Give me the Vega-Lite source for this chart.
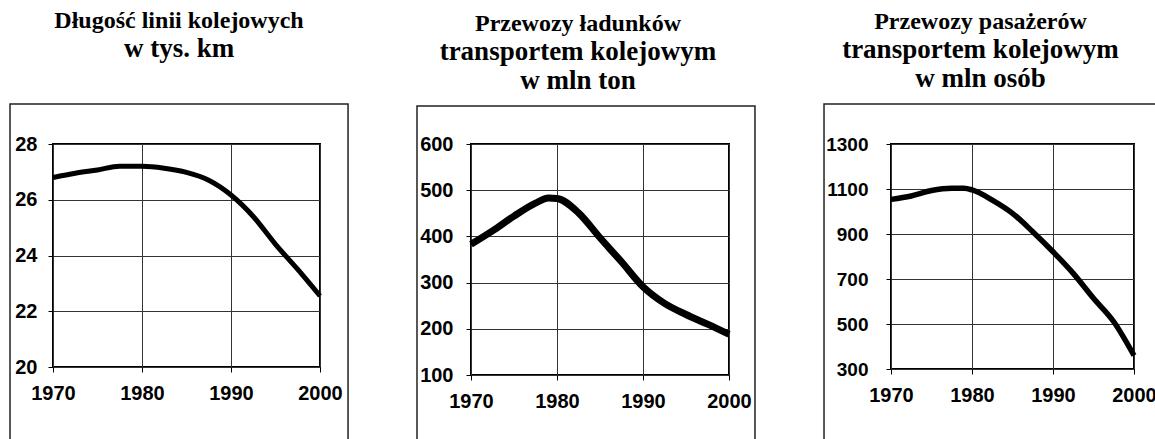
{
  "$schema": "https://vega.github.io/schema/vega-lite/v6.json",
  "padding": {"left": 8, "top": 8, "right": 0, "bottom": 0},
  "background": "white",
  "spacing": 65,
  "datasets": {
    "frame1": [{"year": 1965.17, "year2": 2003.15, "value": 29.435, "value2": 17}],
    "frame2": [{"year": 1963.72, "year2": 2003.02, "value": 682.3, "value2": -65}],
    "frame3": [{"year": 1961.73, "year2": 2003.33, "value": 1477.8, "value2": -60}],
    "rail1": [
      {"year": 1970, "value": 26.8}, {"year": 1972.5, "value": 26.95}, {"year": 1975, "value": 27.07},
      {"year": 1977.5, "value": 27.2}, {"year": 1980, "value": 27.2}, {"year": 1982.5, "value": 27.13},
      {"year": 1985, "value": 26.98}, {"year": 1987.5, "value": 26.7}, {"year": 1990, "value": 26.17},
      {"year": 1992.5, "value": 25.4}, {"year": 1995, "value": 24.4}, {"year": 1997.5, "value": 23.5},
      {"year": 2000, "value": 22.55}
    ],
    "rail2": [
      {"year": 1970, "value": 383}, {"year": 1972.5, "value": 412}, {"year": 1975, "value": 444},
      {"year": 1977.5, "value": 472}, {"year": 1979, "value": 483}, {"year": 1980, "value": 482},
      {"year": 1982.5, "value": 451}, {"year": 1985, "value": 397}, {"year": 1987.5, "value": 345},
      {"year": 1990, "value": 291}, {"year": 1992.5, "value": 255}, {"year": 1995, "value": 231},
      {"year": 1997.5, "value": 210}, {"year": 2000, "value": 188}
    ],
    "rail3": [
      {"year": 1970, "value": 1054}, {"year": 1972.5, "value": 1069}, {"year": 1975, "value": 1093},
      {"year": 1977.5, "value": 1103}, {"year": 1979, "value": 1103}, {"year": 1980, "value": 1096},
      {"year": 1982.5, "value": 1051}, {"year": 1985, "value": 992}, {"year": 1987.5, "value": 910},
      {"year": 1990, "value": 821}, {"year": 1992.5, "value": 725}, {"year": 1995, "value": 614},
      {"year": 1997.5, "value": 510}, {"year": 2000, "value": 360}
    ]
  },
  "hconcat": [
    {
      "width": 267, "height": 223,
      "title": {"text": "Długość linii kolejowych", "subtitle": "w tys. km", "offset": 41},
      "encoding": {
        "x": {"field": "year", "type": "quantitative", "scale": {"domain": [1970, 2000], "nice": false, "zero": false},
              "axis": {"values": [1970, 1980, 1990, 2000], "format": "d", "title": null, "labelPadding": 11, "labelFlush": false, "labelOverlap": false}},
        "y": {"field": "value", "type": "quantitative", "scale": {"domain": [20, 28], "nice": false, "zero": false},
              "axis": {"values": [20, 22, 24, 26, 28], "format": "d", "title": null, "labelPadding": 11, "labelOverlap": false}}
      },
      "layer": [
        {"data": {"name": "frame1"}, "mark": {"type": "rect", "fill": "white", "fillOpacity": 0, "stroke": "#222", "strokeWidth": 1.5, "clip": false},
         "encoding": {"x2": {"field": "year2"}, "y2": {"field": "value2"}}},
        {"data": {"name": "rail1"}, "mark": {"type": "line", "interpolate": "monotone", "color": "black", "strokeWidth": 5}}
      ]
    },
    {
      "width": 258, "height": 231,
      "title": {"text": "Przewozy ładunków", "subtitle": ["transportem kolejowym", "w mln ton"], "offset": 11, "dx": -8},
      "encoding": {
        "x": {"field": "year", "type": "quantitative", "scale": {"domain": [1970, 2000], "nice": false, "zero": false},
              "axis": {"values": [1970, 1980, 1990, 2000], "format": "d", "title": null, "labelPadding": 11, "labelFlush": false, "labelOverlap": false}},
        "y": {"field": "value", "type": "quantitative", "scale": {"domain": [100, 600], "nice": false, "zero": false},
              "axis": {"values": [100, 200, 300, 400, 500, 600], "format": "d", "title": null, "labelPadding": 13, "labelOverlap": false}}
      },
      "layer": [
        {"data": {"name": "frame2"}, "mark": {"type": "rect", "fill": "white", "fillOpacity": 0, "stroke": "#222", "strokeWidth": 1.5, "clip": false},
         "encoding": {"x2": {"field": "year2"}, "y2": {"field": "value2"}}},
        {"data": {"name": "rail2"}, "mark": {"type": "line", "interpolate": "monotone", "color": "black", "strokeWidth": 7}}
      ]
    },
    {
      "width": 243, "height": 225,
      "title": {"text": "Przewozy pasażerów", "subtitle": ["transportem kolejowym", "w mln osób"], "offset": 11, "dx": -12},
      "encoding": {
        "x": {"field": "year", "type": "quantitative", "scale": {"domain": [1970, 2000], "nice": false, "zero": false},
              "axis": {"values": [1970, 1980, 1990, 2000], "format": "d", "title": null, "labelPadding": 11, "labelFlush": false, "labelOverlap": false}},
        "y": {"field": "value", "type": "quantitative", "scale": {"domain": [300, 1300], "nice": false, "zero": false},
              "axis": {"values": [300, 500, 700, 900, 1100, 1300], "format": "d", "title": null, "labelPadding": 18, "labelFontSize": 19, "labelOverlap": false}}
      },
      "layer": [
        {"data": {"name": "frame3"}, "mark": {"type": "rect", "fill": "white", "fillOpacity": 0, "stroke": "#222", "strokeWidth": 1.5, "clip": false},
         "encoding": {"x2": {"field": "year2"}, "y2": {"field": "value2"}}},
        {"data": {"name": "rail3"}, "mark": {"type": "line", "interpolate": "monotone", "color": "black", "strokeWidth": 5.5}}
      ]
    }
  ],
  "config": {
    "view": {"stroke": "black", "strokeWidth": 2},
    "axis": {
      "labelFont": "Liberation Sans", "labelFontWeight": "bold", "labelFontSize": 20, "labelColor": "black",
      "tickColor": "black", "tickSize": 5, "tickWidth": 1, "domain": false,
      "grid": true, "gridColor": "#333", "gridWidth": 1, "gridOpacity": 1
    },
    "title": {
      "font": "Liberation Serif", "fontSize": 24, "fontWeight": "bold", "color": "black", "anchor": "middle", "frame": "bounds",
      "subtitleFont": "Liberation Serif", "subtitleFontSize": 27, "subtitleFontWeight": "bold", "subtitleColor": "black",
      "subtitleLineHeight": 29, "subtitlePadding": 3
    }
  }
}
